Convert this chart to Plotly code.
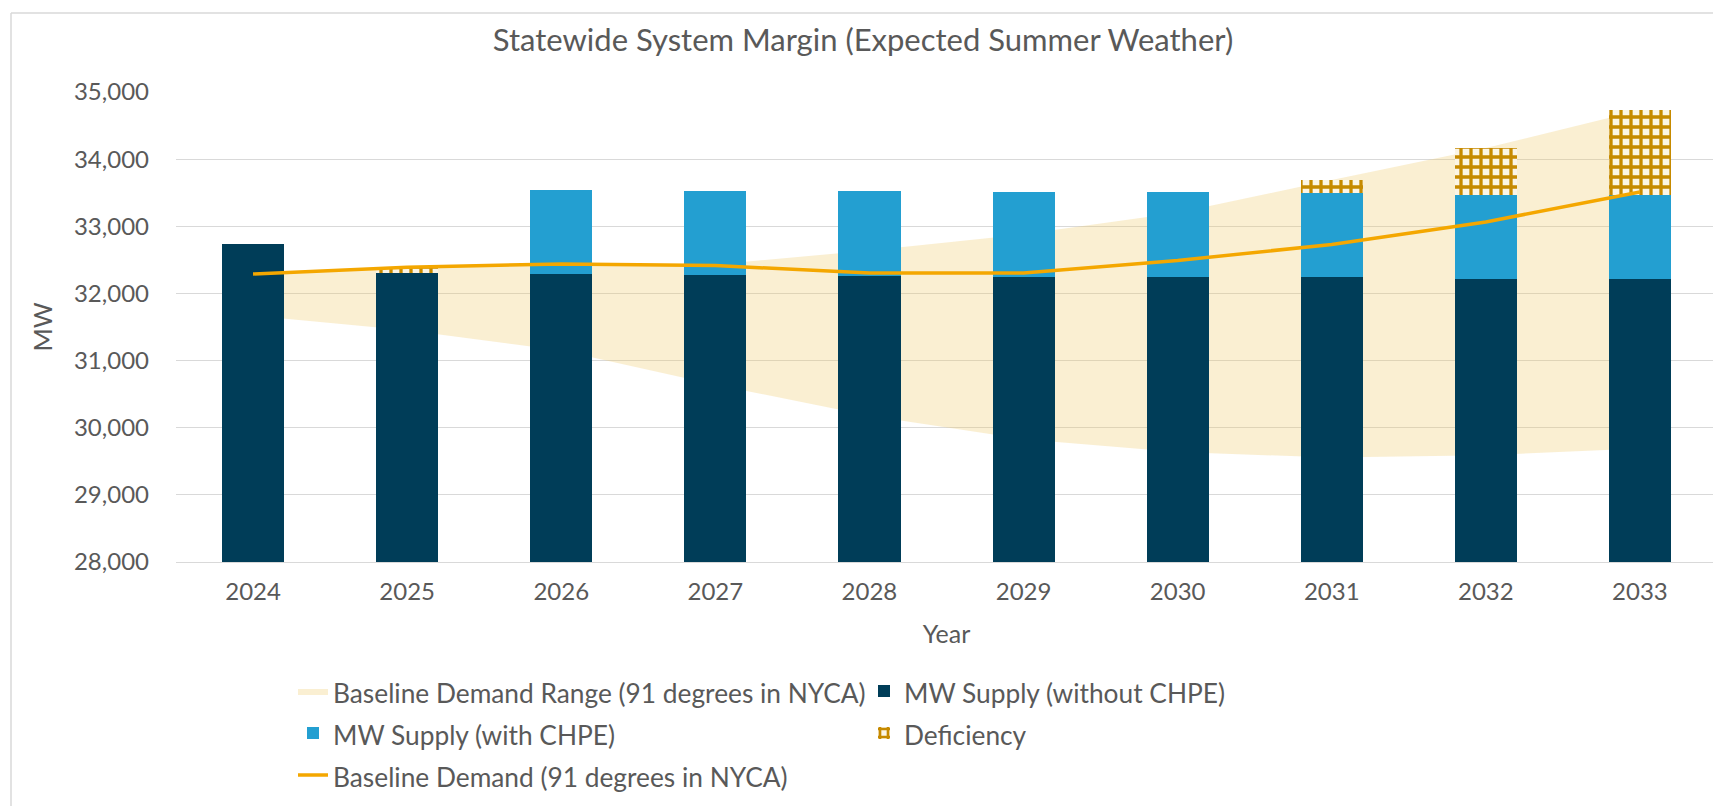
import plotly.graph_objects as go

# ---------------- data ----------------
years = ["2024", "2025", "2026", "2027", "2028", "2029", "2030", "2031", "2032", "2033"]
supply_without_chpe = [32740, 32300, 32295, 32280, 32255, 32250, 32250, 32240, 32220, 32220]
supply_with_chpe = [32740, 32300, 33540, 33525, 33525, 33505, 33505, 33490, 33470, 33470]
deficiency = [0, 90, 0, 0, 0, 0, 0, 200, 695, 1260]
demand_range_high = [32290, 32390, 32440, 32430, 32640, 32880, 33200, 33690, 34165, 34730]
demand_range_low = [31670, 31450, 31150, 30640, 30180, 29830, 29640, 29555, 29590, 29690]
baseline_demand = [32290, 32390, 32440, 32415, 32305, 32305, 32490, 32730, 33065, 33510]
y_ticks = [28000, 29000, 30000, 31000, 32000, 33000, 34000, 35000]

legend_names = [
    "Baseline Demand Range (91 degrees in NYCA)",
    "MW Supply (without CHPE)",
    "MW Supply (with CHPE)",
    "Deficiency",
    "Baseline Demand (91 degrees in NYCA)",
]

chpe_increment = [w - wo for w, wo in zip(supply_with_chpe, supply_without_chpe)]

# ---------------- style ----------------
W, H = 1721, 806
ML, MR, MT, MB = 168, 12, 84, 252
FONT = "Lato"
TXT = "#595959"
GRID = "#D9D9D9"
DARK = "#003D58"
LIGHT = "#239FD1"
GOLD_LINE = "#F4A700"
BAND = "rgba(238,202,105,0.30)"
CHECK_FG = "#C68A00"
CHECK_BG = "#FBF5E6"
LEG_TEXT_PX = 26.3


def leg(name):
    # legend row spacing is driven by legend font size; text itself is drawn smaller
    return '<span style="font-size:%.1fpx">%s</span>' % (LEG_TEXT_PX, name)


fig = go.Figure()

# demand range band (drawn in base subplot, behind the bars)
fig.add_trace(go.Scatter(
    x=years, y=demand_range_low, mode="lines", line=dict(width=0),
    showlegend=False, hoverinfo="skip"))
fig.add_trace(go.Scatter(
    x=years, y=demand_range_high, mode="lines", line=dict(width=0),
    fill="tonexty", fillcolor=BAND,
    name=leg(legend_names[0]), legendrank=1))

# bars on overlay axis so they sit above the band
fig.add_trace(go.Bar(
    x=years, y=supply_without_chpe, yaxis="y2", marker=dict(color=DARK, line=dict(width=0)),
    name=leg(legend_names[1]), legendrank=2))
fig.add_trace(go.Bar(
    x=years, y=chpe_increment, yaxis="y2", marker=dict(color=LIGHT, line=dict(width=0)),
    name=leg(legend_names[2]), legendrank=3))
fig.add_trace(go.Bar(
    x=years, y=deficiency, yaxis="y2",
    marker=dict(color=CHECK_BG, line=dict(width=0),
                pattern=dict(shape="+", fgcolor=CHECK_FG, bgcolor=CHECK_BG,
                             size=10, solidity=0.55, fillmode="replace")),
    name=leg(legend_names[3]), legendrank=4))
fig.add_trace(go.Scatter(
    x=years, y=baseline_demand, yaxis="y2", mode="lines",
    line=dict(color=GOLD_LINE, width=3.5),
    name=leg(legend_names[4]), legendrank=5))

# chart border: only top and left edges are visible in the reference
pw = W - ML - MR
ph = H - MT - MB


def px_x(p):
    return (p - ML) / pw


def px_y(p):
    return (H - MB - p) / ph


fig.add_shape(type="line", xref="paper", yref="paper",
              x0=px_x(3), x1=px_x(W), y0=px_y(5), y1=px_y(5),
              line=dict(color=GRID, width=1.5), layer="below")
fig.add_shape(type="line", xref="paper", yref="paper",
              x0=px_x(3), x1=px_x(3), y0=px_y(5), y1=px_y(H),
              line=dict(color=GRID, width=1.5), layer="below")

fig.update_layout(
    width=W, height=H,
    margin=dict(l=ML, r=MR, t=MT, b=MB, autoexpand=False),
    paper_bgcolor="white", plot_bgcolor="white",
    font=dict(family=FONT, color=TXT, size=24),
    barmode="stack", bargap=0.597,
    title=dict(text="Statewide System Margin (Expected Summer Weather)",
               x=855 / W, xref="container", xanchor="center",
               y=1 - 32 / H, yref="container", yanchor="middle",
               font=dict(size=31, color=TXT, family=FONT)),
    xaxis=dict(type="category", categoryorder="array", categoryarray=years,
               showgrid=False, showline=True, linecolor=GRID, linewidth=1,
               ticks="", tickfont=dict(size=24, color=TXT), ticklabelstandoff=8,
               title=dict(text="Year", font=dict(size=25, color=TXT), standoff=21)),
    yaxis=dict(range=[28000, 35000], tickvals=y_ticks, tickformat=",d",
               showgrid=True, gridcolor=GRID, gridwidth=1, zeroline=False,
               showline=False, ticks="", tickfont=dict(size=24, color=TXT),
               ticklabelstandoff=26,
               title=dict(text="MW", font=dict(size=25, color=TXT), standoff=14)),
    yaxis2=dict(range=[28000, 35000], overlaying="y", visible=False),
    legend=dict(orientation="h", xref="container", yref="container",
                x=285 / W, xanchor="left", y=1 - 657 / H, yanchor="top",
                entrywidth=526, entrywidthmode="pixels",
                font=dict(size=30, color=TXT, family=FONT),
                bgcolor="rgba(0,0,0,0)", traceorder="normal"),
    showlegend=True,
)

fig.write_html("out.html")
